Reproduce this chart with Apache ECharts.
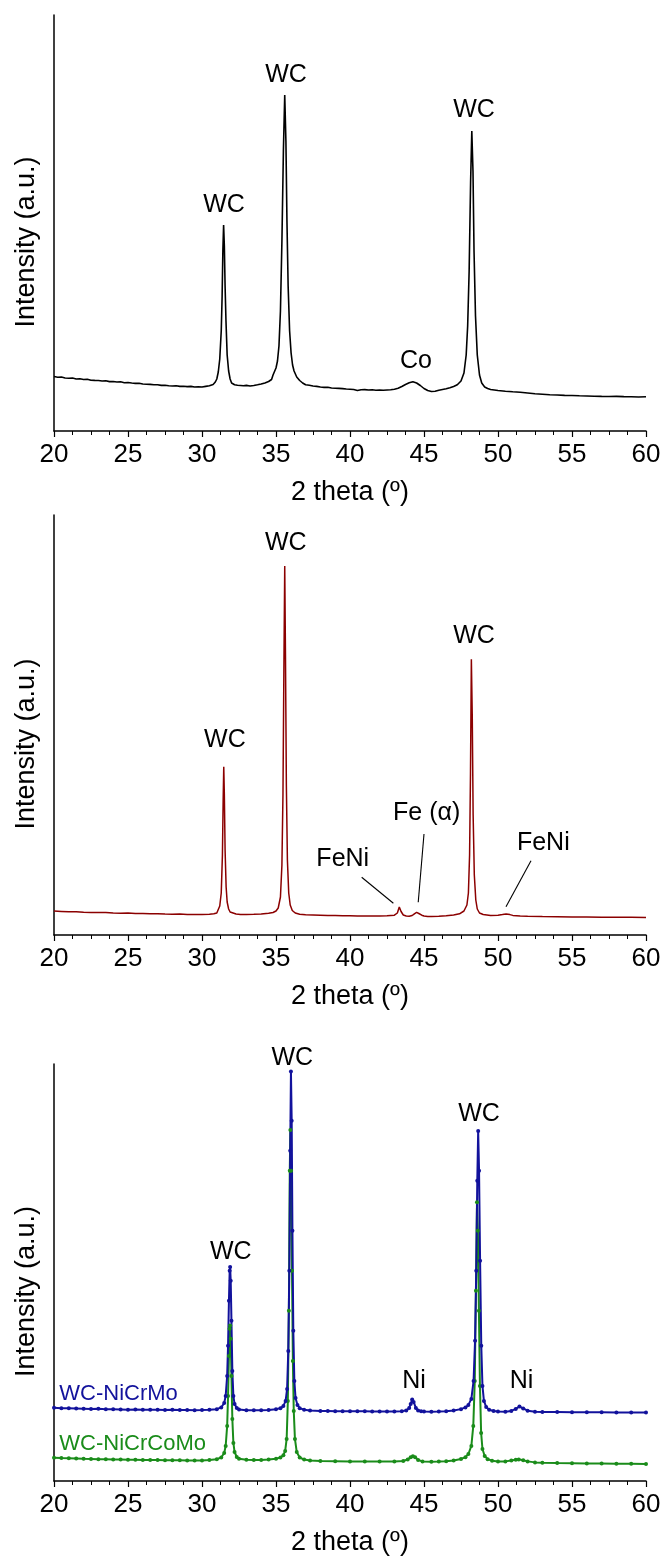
<!DOCTYPE html>
<html>
<head>
<meta charset="utf-8">
<script src="https://cdn.jsdelivr.net/npm/echarts@6/dist/echarts.min.js"></script>
<style>
html,body{margin:0;padding:0;background:#fff;}
#chart{width:666px;height:1559px;}
</style>
</head>
<body>
<div id="chart"></div>
<script>
// ---------------- DATA ----------------
// Panel 1 (black): [2theta, intensity]
const pattern1 = [
[20.0,545],[20.25,538],[20.5,540],[20.75,530],[21.0,528],[21.25,530],[21.5,520],[21.75,522],
[22.0,515],[22.25,518],[22.5,508],[22.75,506],[23.0,505],[23.25,500],[23.5,502],[23.75,494],
[24.0,495],[24.25,490],[24.5,492],[24.75,483],[25.0,485],[25.25,480],[25.5,476],[25.75,478],
[26.0,470],[26.25,468],[26.5,466],[26.75,462],[27.0,463],[27.25,456],[27.5,458],[27.75,452],
[28.0,450],[28.25,452],[28.5,446],[28.75,447],[29.0,444],[29.25,446],[29.5,440],[29.75,442],
[30.0,440],[30.25,446],[30.5,452],[30.75,465],[30.9,490],[31.0,520],[31.1,590],[31.2,720],
[31.3,1000],[31.36,1350],[31.41,1800],[31.46,2060],[31.51,1850],[31.56,1450],[31.62,1100],
[31.7,760],[31.8,600],[31.9,520],[32.0,480],[32.2,462],[32.4,458],[32.6,455],[32.8,452],
[33.0,456],[33.25,450],[33.5,455],[33.75,462],[34.0,470],[34.25,480],[34.5,495],[34.7,515],
[34.8,560],[35.0,630],[35.1,700],[35.2,850],[35.3,1200],[35.4,1900],[35.5,2800],[35.59,3360],
[35.67,2900],[35.74,2100],[35.82,1450],[35.92,1000],[36.02,780],[36.12,660],[36.22,600],[36.4,540],
[36.6,505],[36.8,480],[37.0,462],[37.25,458],[37.5,450],[37.75,446],[38.0,440],[38.25,436],
[38.5,438],[38.75,430],[39.0,428],[39.25,426],[39.5,424],[39.75,420],[40.0,418],[40.25,415],
[40.5,405],[40.75,412],[41.0,414],[41.25,410],[41.5,412],[41.75,408],[42.0,410],[42.25,408],
[42.5,410],[42.75,412],[43.0,418],[43.25,428],[43.5,445],[43.75,465],[44.0,482],[44.25,492],
[44.5,480],[44.75,455],[45.0,425],[45.25,405],[45.5,395],[45.75,398],[46.0,408],[46.25,415],
[46.5,422],[46.75,432],[47.0,445],[47.25,462],[47.5,500],[47.7,580],[47.85,760],[47.95,1050],
[48.05,1600],[48.15,2500],[48.23,3000],[48.31,2600],[48.38,1800],[48.48,1150],[48.6,760],
[48.75,560],[48.9,480],[49.1,440],[49.3,425],[49.5,415],[49.75,410],[50.0,405],[50.5,398],
[51.0,392],[51.5,388],[52.0,380],[52.5,372],[53.0,368],[53.5,362],[54.0,360],[54.5,356],
[55.0,355],[55.5,352],[56.0,350],[56.5,348],[57.0,346],[57.5,345],[58.0,346],[58.5,344],
[59.0,343],[59.5,340],[60.0,342]
];
// Panel 2 (dark red)
const pattern2 = [
[20.0,240],[20.5,236],[21.0,232],[21.5,233],[22.0,228],[22.5,226],[23.0,224],[23.5,225],
[24.0,220],[24.5,218],[25.0,219],[25.5,215],[26.0,214],[26.5,212],[27.0,213],[27.5,210],
[28.0,208],[28.5,210],[29.0,206],[29.5,205],[30.0,206],[30.5,208],[30.8,212],[31.0,220],
[31.1,240],[31.2,290],[31.3,420],[31.38,800],[31.43,1350],[31.47,1683],[31.51,1400],
[31.56,850],[31.63,480],[31.7,330],[31.8,260],[31.9,230],[32.0,218],[32.3,210],[32.6,206],
[33.0,205],[33.5,207],[34.0,210],[34.5,218],[34.8,225],[35.0,240],[35.15,270],[35.3,380],
[35.4,700],[35.47,1400],[35.53,2600],[35.59,3690],[35.64,2800],[35.7,1500],[35.77,750],
[35.86,420],[35.96,300],[36.1,245],[36.3,220],[36.6,208],[37.0,202],[37.5,200],[38.0,198],
[38.5,196],[39.0,195],[39.5,193],[40.0,192],[40.5,190],[41.0,191],[41.5,189],[42.0,190],
[42.5,192],[43.0,198],[43.2,220],[43.33,280],[43.45,235],[43.6,200],[43.8,190],[44.0,188],
[44.2,195],[44.35,212],[44.5,226],[44.65,215],[44.85,198],[45.0,190],[45.25,186],[45.5,185],
[46.0,188],[46.5,192],[47.0,200],[47.4,212],[47.7,240],[47.9,300],[48.0,420],[48.08,800],
[48.14,1600],[48.2,2757],[48.26,2200],[48.32,1200],[48.4,600],[48.5,350],[48.6,260],
[48.75,220],[49.0,205],[49.5,196],[50.0,198],[50.3,204],[50.55,210],[50.8,204],[51.0,196],
[51.5,190],[52.0,187],[53.0,184],[54.0,182],[55.0,180],[56.0,179],[57.0,178],[58.0,177],
[59.0,178],[60.0,176]
];
// Panel 3: WC-NiCrMo (blue)
const patternNiCrMo = [
[20.0,732],[20.5,728],[21.0,726],[21.5,724],[22.0,722],[22.5,720],[23.0,721],[23.5,717],
[24.0,716],[24.5,715],[25.0,713],[25.5,714],[26.0,712],[26.5,711],[27.0,712],[27.5,710],
[28.0,711],[28.5,709],[29.0,710],[29.5,708],[30.0,709],[30.5,712],[31.0,718],[31.3,735],
[31.5,780],[31.6,850],[31.7,1050],[31.76,1350],[31.82,1800],[31.87,2100],[31.9,2138],
[31.94,2000],[31.99,1600],[32.05,1100],[32.12,850],[32.2,770],[32.35,730],[32.5,715],
[33.0,708],[33.5,706],[34.0,707],[34.5,710],[35.0,716],[35.3,728],[35.5,750],[35.65,800],
[35.75,920],[35.83,1300],[35.9,2100],[35.96,3300],[36.01,4090],[36.06,3600],[36.11,2500],
[36.17,1500],[36.24,1000],[36.32,830],[36.45,760],[36.6,728],[36.9,712],[37.3,704],
[38.0,700],[38.5,699],[39.0,698],[39.5,697],[40.0,697],[40.5,696],[41.0,696],[41.5,695],
[42.0,695],[42.5,694],[43.0,695],[43.5,698],[43.8,705],[44.0,730],[44.1,770],[44.2,814],
[44.3,790],[44.45,730],[44.6,705],[44.8,697],[45.0,694],[45.5,693],[46.0,694],[46.5,698],
[47.0,705],[47.5,718],[47.8,735],[48.0,760],[48.2,820],[48.35,1000],[48.45,1400],
[48.53,2100],[48.6,3000],[48.66,3496],[48.72,3100],[48.79,2200],[48.87,1350],[48.95,950],
[49.05,800],[49.2,740],[49.4,712],[49.7,700],[50.0,694],[50.5,692],[50.9,700],[51.2,720],
[51.45,744],[51.7,725],[52.0,702],[52.5,692],[53.0,690],[54.0,689],[55.0,688],[56.0,687],
[57.0,686],[58.0,685],[59.0,685],[60.0,684]
];
// Panel 3: WC-NiCrCoMo (green)
const patternNiCrCoMo = [
[20.0,233],[20.5,230],[21.0,228],[21.5,225],[22.0,222],[22.5,220],[23.0,218],[23.5,217],
[24.0,215],[24.5,214],[25.0,212],[25.5,212],[26.0,210],[26.5,209],[27.0,209],[27.5,208],
[28.0,207],[28.5,207],[29.0,206],[29.5,206],[30.0,206],[30.5,210],[31.0,218],[31.3,235],
[31.5,280],[31.6,350],[31.7,550],[31.76,850],[31.82,1250],[31.87,1520],[31.9,1553],
[31.94,1420],[31.99,1050],[32.05,620],[32.12,380],[32.2,290],[32.35,240],[32.5,222],
[33.0,212],[33.5,210],[34.0,211],[34.5,214],[35.0,222],[35.3,235],[35.5,258],[35.62,300],
[35.72,420],[35.8,800],[35.87,1700],[35.93,3100],[35.97,3506],[36.02,3100],[36.08,2100],
[36.14,1200],[36.2,700],[36.28,420],[36.4,290],[36.6,235],[36.9,214],[37.3,205],[38.0,200],
[39.0,198],[40.0,196],[41.0,195],[42.0,194],[43.0,195],[43.6,200],[43.9,215],[44.1,238],
[44.25,247],[44.4,238],[44.6,210],[44.9,196],[45.5,193],[46.0,194],[46.5,198],[47.0,205],
[47.5,220],[47.8,238],[48.0,270],[48.2,350],[48.33,550],[48.43,1000],[48.51,1900],
[48.58,2784],[48.64,2500],[48.71,1700],[48.78,950],[48.86,480],[48.95,320],[49.1,250],
[49.3,218],[49.6,202],[50.0,196],[50.5,196],[50.9,204],[51.2,212],[51.4,216],[51.7,208],
[52.0,196],[52.5,186],[53.0,182],[54.0,179],[55.0,177],[56.0,175],[57.0,174],[58.0,173],
[59.0,172],[60.0,171]
];
// Axis ranges / ticks
const xMin = 20, xMax = 60, xStep = 5;
const yMax1 = 4160, yMax2 = 4200, yMax3 = 4166;
const xTitle = '2 theta (\u00BA)';
const yTitle = 'Intensity (a.u.)';
// Peak annotations: [text, 2theta, intensity] (label centre)
const notes1 = [['WC',31.49,2260],['WC',35.68,3560],['WC',48.38,3210],['Co',44.46,700]];
const notes2 = [['WC',31.55,1950],['WC',35.66,3920],['WC',48.38,2990],['FeNi',39.51,757],['Fe (\u03B1)',45.18,1217],['FeNi',53.06,917]];
const notes3 = [['WC',31.94,2286],['WC',48.72,3661],['Ni',44.32,996],['Ni',51.59,996]];
// Annotation sitting just above the tallest peak of panel 3: [text, 2theta, intensity of peak top]
const notes3Top = [['WC',36.1,4090]];
// Arrows (panel 2): [[from2theta, fromI],[to2theta, toI]]
const arrows2 = [[[40.79,577],[42.93,317]],[[45.0,1010],[44.61,327]],[[52.23,743],[50.54,283]]];
// Series names (panel 3) and their label anchors [2theta, intensity]
const name3a = 'WC-NiCrMo', name3b = 'WC-NiCrCoMo';
const nameAnchor3a = [20.36, 873], nameAnchor3b = [20.36, 373];

// ---------------- CHART ----------------
const FONT = '"Liberation Sans", Arial, Helvetica, sans-serif';
const chart = echarts.init(document.getElementById('chart'), null, {renderer:'canvas'});

const grids = [
  {left:54, top:15, width:592, height:416},
  {left:54, top:515, width:592, height:420},
  {left:54, top:1064, width:592, height:417}
];
const yMaxes = [yMax1, yMax2, yMax3];

function xAxisFor(i){
  return {
    gridIndex:i, type:'value', min:xMin, max:xMax, interval:xStep,
    axisLine:{show:true, onZero:false, lineStyle:{color:'#000', width:1.5}},
    axisTick:{show:true, length:6, lineStyle:{color:'#000', width:1.2}},
    minorTick:{show:true, splitNumber:4, length:4, lineStyle:{color:'#000', width:1}},
    splitLine:{show:false},
    axisLabel:{fontSize:26, color:'#000', margin:11, fontFamily:FONT},
    name:xTitle, nameLocation:'middle', nameGap:48,
    nameTextStyle:{fontSize:27, color:'#000', fontFamily:FONT}
  };
}
function yAxisFor(i){
  return {
    gridIndex:i, type:'value', min:0, max:yMaxes[i],
    axisLine:{show:true, lineStyle:{color:'#000', width:1.5}},
    axisTick:{show:false}, axisLabel:{show:false}, splitLine:{show:false},
    name:yTitle, nameLocation:'middle', nameGap:14,
    nameTextStyle:{fontSize:27, color:'#000', fontFamily:FONT, padding:[0,38,0,0]}
  };
}
function noteData(notes, pos){
  return notes.map(n=>({name:n[0], coord:[n[1], n[2]],
    label: pos ? {position:pos, distance:1} : undefined}));
}
function notePoints(data){
  return {
    symbol:'circle', symbolSize:0, silent:true, animation:false,
    label:{show:true, position:'inside', color:'#000', fontSize:25, fontFamily:FONT,
           formatter:p=>p.name},
    data: data
  };
}

const series = [
  {type:'line', xAxisIndex:0, yAxisIndex:0, data:pattern1, showSymbol:false, clip:false,
   lineStyle:{color:'#000', width:1.6}, itemStyle:{color:'#000'}, animation:false,
   markPoint:notePoints(noteData(notes1))},
  {type:'line', xAxisIndex:1, yAxisIndex:1, data:pattern2, showSymbol:false, clip:false,
   lineStyle:{color:'#8b0000', width:1.5}, itemStyle:{color:'#8b0000'}, animation:false,
   markPoint:notePoints(noteData(notes2)),
   markLine:{silent:true, animation:false, symbol:['none','arrow'], symbolSize:[0,10],
     lineStyle:{color:'#000', width:1.1, type:'solid'}, label:{show:false},
     data: arrows2.map(a=>[{coord:a[0]},{coord:a[1]}])}},
  {type:'line', name:name3b, xAxisIndex:2, yAxisIndex:2, data:patternNiCrCoMo, showSymbol:true, clip:false,
   symbol:'circle', symbolSize:4, lineStyle:{color:'#1a8c1a', width:2}, itemStyle:{color:'#1a8c1a'}, animation:false,
   markPoint:{symbol:'circle', symbolSize:0, silent:true, animation:false,
     label:{show:true, position:'right', distance:0, color:'#1a8c1a', fontSize:22, fontFamily:FONT, formatter:p=>p.name},
     data:[{name:name3b, coord:nameAnchor3b}]}},
  {type:'line', name:name3a, xAxisIndex:2, yAxisIndex:2, data:patternNiCrMo, showSymbol:true, clip:false,
   symbol:'circle', symbolSize:4, lineStyle:{color:'#12129c', width:2}, itemStyle:{color:'#12129c'}, animation:false,
   markPoint:{symbol:'circle', symbolSize:0, silent:true, animation:false,
     label:{show:true, position:'right', distance:0, color:'#12129c', fontSize:22, fontFamily:FONT, formatter:p=>p.name},
     data:[{name:name3a, coord:nameAnchor3a}]}},
  {type:'line', xAxisIndex:2, yAxisIndex:2, data:[], showSymbol:false, animation:false,
   markPoint:notePoints(noteData(notes3).concat(noteData(notes3Top,'top')))}
];

chart.setOption({
  animation:false,
  backgroundColor:'#fff',
  textStyle:{fontFamily:FONT},
  grid:grids,
  xAxis:[xAxisFor(0), xAxisFor(1), xAxisFor(2)],
  yAxis:[yAxisFor(0), yAxisFor(1), yAxisFor(2)],
  series:series
});
</script>
</body>
</html>
